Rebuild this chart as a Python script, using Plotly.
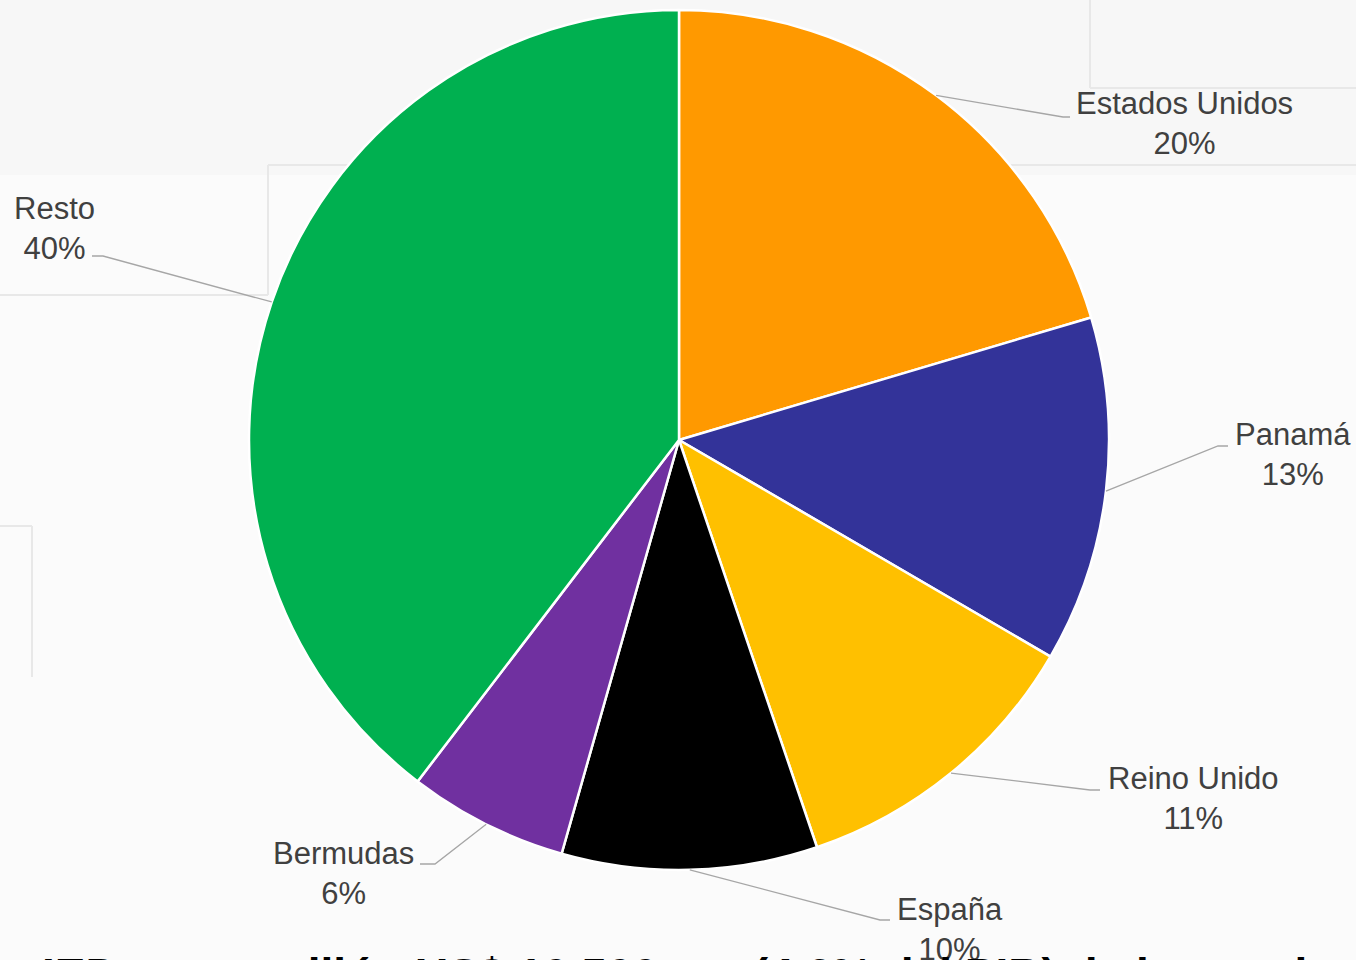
import math
import plotly.graph_objects as go

# ---- data ----
countries = ["Estados Unidos", "Panamá", "Reino Unido", "España", "Bermudas", "Resto"]
shares = [20.4, 13.0, 11.4, 9.6, 6.0, 39.6]
colors = ["#FF9900", "#333399", "#FFC000", "#000000", "#7030A0", "#00B050"]
title_text = "IED en un millón US$ 10.500 mn (4,6% del PIB) de los cuales"

W, H = 1356, 960
CX, CY, R = 679, 440, 430

# label block centres (pixels) and leader-line elbow (pixels)
label_pos = [(1184, 124), (1293, 454), (1193, 798), (950, 929), (343, 873), (54, 228)]
elbow = [(1063, 117, 1070), (1218, 446, 1228), (1090, 790, 1100),
         (880, 920, 890), (435, 864, 420), (103, 256, 92)]


def px(x):
    return x / W


def py(y):
    return 1 - y / H


fig = go.Figure(go.Pie(
    labels=countries, values=shares, sort=False, direction="clockwise",
    rotation=0, marker=dict(colors=colors, line=dict(color="white", width=2.5)),
    textinfo="none", hoverinfo="label+percent", showlegend=False,
    domain=dict(x=[px(CX - R), px(CX + R)], y=[py(CY + R), py(CY - R)]),
))

shapes = []
# faint background panels
bg_lines = [
    (1090, 0, 1090, 88), (1090, 88, W, 88),
    (268, 165, W, 165), (268, 165, 268, 295), (0, 295, 268, 295),
    (0, 526, 32, 526), (32, 526, 32, 677),
]
shapes.append(dict(type="rect", xref="paper", yref="paper", x0=0, x1=1,
                   y0=py(175), y1=1, fillcolor="#F7F7F7", line=dict(width=0), layer="below"))
for x0, y0, x1, y1 in bg_lines:
    shapes.append(dict(type="line", xref="paper", yref="paper", x0=px(x0), y0=py(y0),
                       x1=px(x1), y1=py(y1), line=dict(color="#E8E8E8", width=2), layer="below"))

annotations = []
total = sum(shares)
cum = 0.0
for i, (name, v) in enumerate(zip(countries, shares)):
    mid = (cum + v / 2) / total * 2 * math.pi
    cum += v
    sx = CX + R * math.sin(mid)
    sy = CY - R * math.cos(mid)
    ex, ey, hx = elbow[i]
    shapes.append(dict(type="path", xref="paper", yref="paper",
                       path=f"M {px(sx)} {py(sy)} L {px(ex)} {py(ey)} L {px(hx)} {py(ey)}",
                       line=dict(color="#A6A6A6", width=1.3)))
    lx, ly = label_pos[i]
    pct = round(v / total * 100)
    annotations.append(dict(xref="paper", yref="paper", x=px(lx), y=py(ly),
                            text=f"{name}<br>{pct}%", showarrow=False, align="center",
                            xanchor="center", yanchor="middle",
                            font=dict(family="Liberation Sans, Arial", size=31, color="#404040")))

annotations.append(dict(xref="paper", yref="paper", x=px(40), y=py(947), xanchor="left",
                        yanchor="top", showarrow=False, text=f"<b>{title_text}</b>",
                        font=dict(family="Liberation Sans, Arial", size=46, color="#000000")))

fig.update_layout(width=W, height=H, margin=dict(l=0, r=0, t=0, b=0),
                  paper_bgcolor="#FBFBFB", plot_bgcolor="#FBFBFB",
                  shapes=shapes, annotations=annotations)

fig.write_html("out.html")
